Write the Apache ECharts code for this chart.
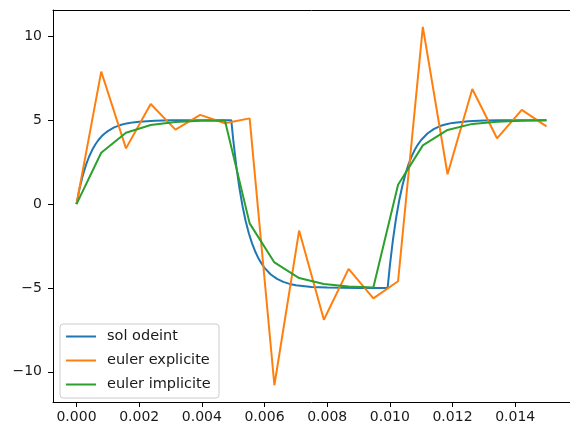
<!DOCTYPE html>
<html>
<head>
<meta charset="utf-8">
<script src="https://cdn.jsdelivr.net/npm/echarts@6/dist/echarts.min.js"></script>
<style>html,body{margin:0;padding:0;background:#fff}#c{width:570px;height:427px}</style>
</head>
<body>
<div id="c"></div>
<script>
// time grid for the Euler schemes (s)
const tEuler = [0, 0.000789, 0.001579, 0.002368, 0.003158, 0.003947, 0.004737, 0.005526, 0.006316, 0.007105,
  0.007895, 0.008684, 0.009474, 0.010263, 0.011053, 0.011842, 0.012632, 0.013421, 0.014211, 0.015];
const eulerExplicite = [0, 7.90, 3.32, 5.97, 4.44, 5.32, 4.82, 5.11, -10.80, -1.58,
  -6.90, -3.86, -5.62, -4.60, 10.56, 1.78, 6.86, 3.92, 5.62, 4.63];
const eulerImplicite = [0, 3.06, 4.25, 4.71, 4.89, 4.96, 4.98, -1.15, -3.48, -4.41,
  -4.77, -4.91, -4.97, 1.15, 3.50, 4.42, 4.78, 4.91, 4.97, 4.99];

// odeint solution
const tOde = [0, 0.0001, 0.0002, 0.0003, 0.0004, 0.0005, 0.0006, 0.0007, 0.0008, 0.0009, 0.0010,
  0.0012, 0.0014, 0.0016, 0.0018, 0.0020, 0.0025, 0.0030, 0.0035, 0.0040, 0.0045, 0.00494,
  0.0050, 0.0051, 0.0052, 0.0053, 0.0054, 0.0055, 0.0056, 0.0057, 0.0058, 0.0059, 0.0060,
  0.0062, 0.0064, 0.0066, 0.0068, 0.0070, 0.0075, 0.0080, 0.0085, 0.0090, 0.0095, 0.00993,
  0.0100, 0.0101, 0.0102, 0.0103, 0.0104, 0.0105, 0.0106, 0.0107, 0.0108, 0.0109, 0.0110,
  0.0112, 0.0114, 0.0116, 0.0118, 0.0120, 0.0125, 0.0130, 0.0135, 0.0140, 0.0145, 0.0150];
const solOdeint = [0, 0.95, 1.70, 2.32, 2.82, 3.22, 3.55, 3.82, 4.04, 4.21, 4.35,
  4.57, 4.71, 4.81, 4.87, 4.91, 4.97, 4.99, 4.996, 4.998, 4.999, 5.0,
  3.87, 2.26, 0.95, -0.13, -1.02, -1.74, -2.33, -2.81, -3.21, -3.53, -3.80,
  -4.20, -4.46, -4.64, -4.76, -4.84, -4.94, -4.98, -4.992, -4.997, -4.999, -5.0,
  -3.69, -2.12, -0.83, 0.23, 1.09, 1.80, 2.38, 2.86, 3.25, 3.56, 3.82,
  4.21, 4.47, 4.65, 4.76, 4.84, 4.94, 4.98, 4.992, 4.997, 4.999, 5.0];

const xTicks = [0, 0.002, 0.004, 0.006, 0.008, 0.010, 0.012, 0.014];
const yTicks = [-10, -5, 0, 5, 10];
const seriesNames = ['sol odeint', 'euler explicite', 'euler implicite'];

const pairs = (xs, ys) => xs.map((x, i) => [x, ys[i]]);
const font = 'DejaVu Sans';
const black = '#000000';
const textCol = '#1a1a1a';

const chart = echarts.init(document.getElementById('c'), null, {renderer: 'canvas'});
const axisLine = {show: true, onZero: false, lineStyle: {color: black, width: 1}};
chart.setOption({
  animation: false,
  backgroundColor: '#ffffff',
  textStyle: {fontFamily: font},
  grid: {left: 53, top: 10, right: -13, bottom: 25, containLabel: false},
  xAxis: [{
    type: 'value', min: -0.00075, max: 0.01575, position: 'bottom',
    axisLine: axisLine, splitLine: {show: false},
    axisTick: {show: true, length: 5, lineStyle: {color: black, width: 1}, customValues: xTicks},
    axisLabel: {show: true, customValues: xTicks, margin: 8, color: textCol, fontSize: 14, fontFamily: font,
      formatter: v => v.toFixed(3)}
  }, {
    type: 'value', min: -0.00075, max: 0.01575, position: 'top',
    axisLine: axisLine, splitLine: {show: false}, axisTick: {show: false}, axisLabel: {show: false}
  }],
  yAxis: [{
    type: 'value', min: -11.8, max: 11.57, position: 'left',
    axisLine: axisLine, splitLine: {show: false},
    axisTick: {show: true, length: 5, lineStyle: {color: black, width: 1}, customValues: yTicks},
    axisLabel: {show: true, customValues: yTicks, margin: 11, color: textCol, fontSize: 14, fontFamily: font,
      formatter: v => String(v).replace('-', '\u2212')}
  }, {
    type: 'value', min: -11.8, max: 11.57, position: 'right',
    axisLine: axisLine, splitLine: {show: false}, axisTick: {show: false}, axisLabel: {show: false}
  }],
  legend: {
    show: true, orient: 'vertical', left: 60, top: 324,
    padding: [5, 6, 6, 6], itemGap: 9, itemWidth: 30, itemHeight: 2, icon: 'rect',
    backgroundColor: 'rgba(255,255,255,0.8)', borderColor: '#cccccc', borderWidth: 1, borderRadius: 3,
    textStyle: {fontSize: 14.5, fontFamily: font, color: textCol, lineHeight: 14, width: 106, padding: [0, 0, 0, 6]},
    data: seriesNames
  },
  series: [
    {name: seriesNames[0], type: 'line', data: pairs(tOde, solOdeint), showSymbol: false, symbol: 'none',
      lineStyle: {color: '#1f77b4', width: 2}, itemStyle: {color: '#1f77b4'}},
    {name: seriesNames[1], type: 'line', data: pairs(tEuler, eulerExplicite), showSymbol: false, symbol: 'none',
      lineStyle: {color: '#ff7f0e', width: 2}, itemStyle: {color: '#ff7f0e'}},
    {name: seriesNames[2], type: 'line', data: pairs(tEuler, eulerImplicite), showSymbol: false, symbol: 'none',
      lineStyle: {color: '#2ca02c', width: 2}, itemStyle: {color: '#2ca02c'}}
  ]
});
</script>
</body>
</html>
